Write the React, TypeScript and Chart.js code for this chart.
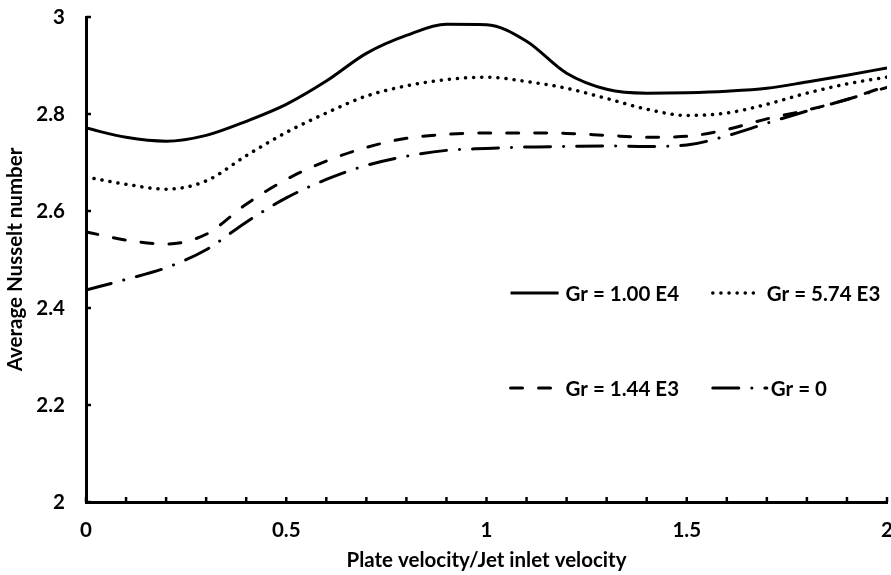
import React, { useEffect, useRef } from "react";
import { Chart, registerables } from "chart.js";

Chart.register(...registerables);

const xValues = [0, 0.1, 0.2, 0.3, 0.4, 0.5, 0.6, 0.7, 0.8, 0.9, 1.0, 1.1, 1.2, 1.3, 1.4, 1.5, 1.6, 1.7, 1.8, 1.9, 2.0];
const grE4 = [2.771, 2.752, 2.744, 2.756, 2.785, 2.82, 2.868, 2.925, 2.962, 2.985, 2.984, 2.95, 2.884, 2.851, 2.843, 2.844, 2.847, 2.853, 2.866, 2.88, 2.895];
const gr574 = [2.67, 2.655, 2.645, 2.662, 2.714, 2.762, 2.802, 2.837, 2.858, 2.871, 2.876, 2.867, 2.853, 2.832, 2.81, 2.797, 2.802, 2.82, 2.843, 2.862, 2.876];
const gr144 = [2.557, 2.54, 2.532, 2.552, 2.614, 2.665, 2.703, 2.731, 2.75, 2.758, 2.761, 2.761, 2.76, 2.756, 2.752, 2.754, 2.768, 2.79, 2.808, 2.83, 2.858];
const gr0 = [2.437, 2.459, 2.483, 2.52, 2.577, 2.627, 2.665, 2.694, 2.713, 2.725, 2.729, 2.732, 2.733, 2.734, 2.733, 2.736, 2.755, 2.781, 2.806, 2.83, 2.855];

const seriesNames = ["Gr = 1.00 E4", "Gr = 5.74 E3", "Gr = 1.44 E3", "Gr = 0"];
const xTitle = "Plate velocity/Jet inlet velocity";
const yTitle = "Average Nusselt number";

const FONT = "Lato, 'Open Sans', sans-serif";
const FS = 20.5;
const DOT = [0.1, 8];
const DASH = [12, 16];
const DASHDOT = [26, 13, 0.1, 13];

const toPts = (ys: number[]) => xValues.map((x, i) => ({ x, y: ys[i] }));

const insideTicks = {
  id: "insideTicks",
  afterDraw(chart: any) {
    const { ctx, chartArea, scales } = chart;
    const xs = scales.x;
    const ys = scales.y;
    ctx.save();
    ctx.strokeStyle = "#000";
    ctx.lineWidth = 2.5;
    ctx.setLineDash([]);
    xs.ticks.forEach((t: any) => {
      const px = xs.getPixelForValue(t.value);
      ctx.beginPath();
      ctx.moveTo(px, chartArea.bottom);
      ctx.lineTo(px, chartArea.bottom - 5);
      ctx.stroke();
    });
    ys.ticks.forEach((t: any) => {
      const py = ys.getPixelForValue(t.value);
      ctx.beginPath();
      ctx.moveTo(chartArea.left, py);
      ctx.lineTo(chartArea.left + 5, py);
      ctx.stroke();
    });

    // legend
    const items = [
      { name: seriesNames[0], dash: [] as number[], x0: 1.06, x1: 1.18, tx: 1.1975, y: 2.431 },
      { name: seriesNames[1], dash: DOT, x0: 1.565, x1: 1.675, tx: 1.7, y: 2.431 },
      { name: seriesNames[2], dash: DASH, x0: 1.06, x1: 1.17, tx: 1.1975, y: 2.235 },
      { name: seriesNames[3], dash: DASHDOT, x0: 1.565, x1: 1.7, tx: 1.71, y: 2.235 },
    ];
    ctx.font = `bold ${FS}px ${FONT}`;
    ctx.fillStyle = "#000";
    ctx.textBaseline = "middle";
    ctx.textAlign = "left";
    items.forEach((it) => {
      const py = ys.getPixelForValue(it.y);
      ctx.lineWidth = it.dash === DOT ? 3.5 : 3;
      ctx.lineCap = it.dash.length ? "round" : "butt";
      ctx.setLineDash(it.dash);
      ctx.beginPath();
      ctx.moveTo(xs.getPixelForValue(it.x0), py);
      ctx.lineTo(xs.getPixelForValue(it.x1), py);
      ctx.stroke();
      ctx.setLineDash([]);
      ctx.fillText(it.name, xs.getPixelForValue(it.tx), py + 1);
    });
    ctx.restore();
  },
};

export default function App() {
  const ref = useRef<HTMLCanvasElement>(null);
  useEffect(() => {
    const mk = (label: string, ys: number[], dash: number[], width: number) => ({
      label,
      data: toPts(ys),
      borderColor: "#000",
      backgroundColor: "#000",
      borderWidth: width,
      borderDash: dash,
      borderCapStyle: dash.length ? "round" : "butt",
      pointRadius: 0,
      cubicInterpolationMode: "monotone",
      fill: false,
    });
    const font = { family: FONT, size: FS, weight: "bold" as const };
    const chart = new Chart(ref.current as HTMLCanvasElement, {
      type: "line",
      data: {
        datasets: [
          mk(seriesNames[0], grE4, [], 3),
          mk(seriesNames[1], gr574, DOT, 3.5),
          mk(seriesNames[2], gr144, DASH, 3),
          mk(seriesNames[3], gr0, DASHDOT, 3),
        ] as any,
      },
      options: {
        animation: false,
        responsive: false,
        devicePixelRatio: 1,
        layout: { padding: { top: 17, right: 4, left: 0, bottom: 0 } },
        plugins: { legend: { display: false }, tooltip: { enabled: false } },
        scales: {
          x: {
            type: "linear",
            min: 0,
            max: 2,
            grid: { display: false, drawTicks: false },
            border: { display: true, color: "#000", width: 3 },
            ticks: {
              stepSize: 0.1,
              autoSkip: false,
              maxRotation: 0,
              padding: 16,
              color: "#000",
              font,
              callback: (v: any) => {
                const n = Number(v);
                return Math.abs(n * 2 - Math.round(n * 2)) < 1e-6 ? String(+n.toFixed(1)) : "";
              },
            },
            title: {
              display: true,
              text: xTitle,
              color: "#000",
              font,
              padding: { top: 2, bottom: 2 },
            },
            afterFit: (s: any) => {
              s.height = 73;
              s.paddingLeft = 0;
              s.paddingRight = 0;
            },
          },
          y: {
            min: 2,
            max: 3,
            grid: { display: false, drawTicks: false },
            border: { display: true, color: "#000", width: 3 },
            ticks: {
              stepSize: 0.2,
              padding: 21,
              color: "#000",
              font,
              callback: (v: any) => String(+Number(v).toFixed(1)),
            },
            title: {
              display: true,
              text: yTitle,
              color: "#000",
              font,
              padding: { top: 3, bottom: 0 },
            },
            afterFit: (s: any) => {
              s.width = 86;
              s.paddingTop = 0;
              s.paddingBottom = 0;
            },
          },
        },
      },
      plugins: [insideTicks],
    });
    return () => chart.destroy();
  }, []);
  return (
    <div style={{ position: "fixed", left: 0, top: 0, width: 891, height: 575, background: "#fff" }}>
      <canvas ref={ref} width={891} height={575} style={{ display: "block" }} />
    </div>
  );
}
